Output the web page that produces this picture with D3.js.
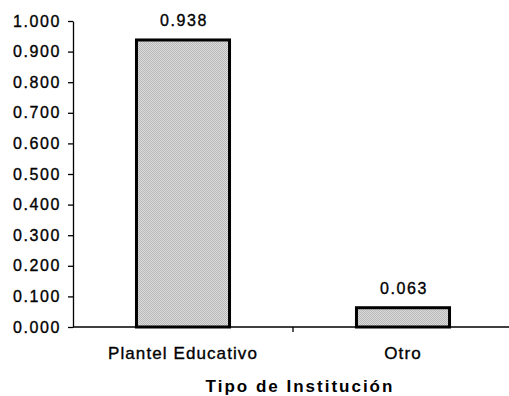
<!DOCTYPE html>
<html>
<head>
<meta charset="utf-8">
<script src="https://cdn.jsdelivr.net/npm/d3@7/dist/d3.min.js"></script>
<style>
  html, body { margin: 0; padding: 0; background: #fff; }
  svg { display: block; }
  text { font-family: "Liberation Sans", Arial, sans-serif; fill: #000; }
</style>
</head>
<body>
<svg id="chart" width="509" height="396"></svg>
<script>
// Institution types and their shares
const categories = ["Plantel Educativo", "Otro"];
const values = [0.938, 0.063];
const yTicks = [0, 0.1, 0.2, 0.3, 0.4, 0.5, 0.6, 0.7, 0.8, 0.9, 1.0];
const xTitle = "Tipo de Institución";

const svg = d3.select("#chart");
const plotLeft = 73, plotRight = 513, plotTop = 21, plotBottom = 327;

const x = d3.scaleBand()
  .domain(categories)
  .range([plotLeft, plotRight])
  .paddingInner(0.577)
  .paddingOuter(0.2885);

const y = d3.scaleLinear().domain([0, 1]).range([plotBottom, plotTop]);

// Dithered grey fill for the bars
const defs = svg.append("defs");
const pat = defs.append("pattern")
  .attr("id", "dither")
  .attr("patternUnits", "userSpaceOnUse")
  .attr("width", 2).attr("height", 2);
pat.append("rect").attr("width", 2).attr("height", 2).attr("fill", "#dcdcdc");
pat.append("rect").attr("width", 1).attr("height", 1).attr("fill", "#b8b8b8");
pat.append("rect").attr("x", 1).attr("y", 1).attr("width", 1).attr("height", 1).attr("fill", "#b8b8b8");

// Shared look of the regular-weight labels
function labelStyle(sel, size, spacing) {
  sel.attr("font-size", size)
    .attr("letter-spacing", spacing + "px")
    .attr("stroke", "#000")
    .attr("stroke-width", 0.35)
    .style("font-family", "'Liberation Sans', Arial, sans-serif");
}

// Y axis
const yAxis = svg.append("g")
  .attr("transform", `translate(${plotLeft},0)`)
  .call(d3.axisLeft(y)
    .tickValues(yTicks)
    .tickFormat(d3.format(".3f"))
    .tickSize(5)
    .tickSizeOuter(0)
    .tickPadding(7));
yAxis.select(".domain").attr("stroke", "#000").attr("stroke-width", 1.3);
yAxis.selectAll(".tick line").attr("stroke", "#000").attr("stroke-width", 1.3);
yAxis.selectAll(".tick text").call(labelStyle, 16, 1.6).attr("fill", "#000");

// Bars
svg.append("g").selectAll("rect")
  .data(categories)
  .join("rect")
  .attr("x", d => x(d))
  .attr("y", (d, i) => y(values[i]))
  .attr("width", x.bandwidth())
  .attr("height", (d, i) => y(0) - y(values[i]))
  .attr("fill", "url(#dither)")
  .attr("stroke", "#000")
  .attr("stroke-width", 3);

// X axis line with a separator tick between categories
svg.append("line")
  .attr("x1", plotLeft).attr("x2", plotRight)
  .attr("y1", y(0)).attr("y2", y(0))
  .attr("stroke", "#000").attr("stroke-width", 1.3);
const step = x.step();
svg.append("g").selectAll("line")
  .data(categories.slice(1))
  .join("line")
  .attr("x1", d => x(d) - step * x.paddingInner() / 2)
  .attr("x2", d => x(d) - step * x.paddingInner() / 2)
  .attr("y1", y(0)).attr("y2", y(0) + 5)
  .attr("stroke", "#000").attr("stroke-width", 1.3);

// Category labels
svg.append("g").selectAll("text")
  .data(categories)
  .join("text")
  .attr("x", d => x(d) + x.bandwidth() / 2)
  .attr("y", 359)
  .attr("text-anchor", "middle")
  .call(labelStyle, 17, 1.1)
  .text(d => d);

// Value labels
svg.append("g").selectAll("text")
  .data(categories)
  .join("text")
  .attr("x", d => x(d) + x.bandwidth() / 2 + 1)
  .attr("y", (d, i) => y(values[i]) - 14)
  .attr("text-anchor", "middle")
  .call(labelStyle, 16, 1.6)
  .text((d, i) => d3.format(".3f")(values[i]));

// Axis title
svg.append("text")
  .attr("x", 300)
  .attr("y", 392)
  .attr("text-anchor", "middle")
  .attr("font-size", 17)
  .attr("font-weight", "bold")
  .attr("letter-spacing", "2px")
  .text(xTitle);
</script>
</body>
</html>
